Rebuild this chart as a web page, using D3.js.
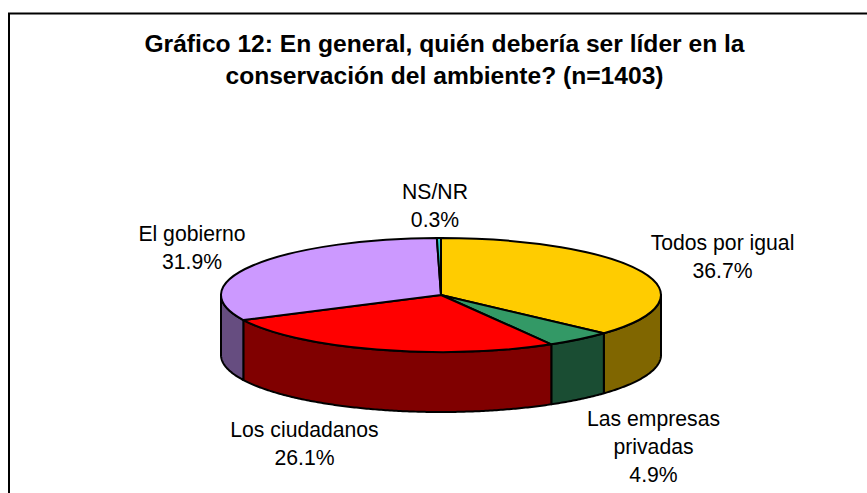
<!DOCTYPE html>
<html lang="es">
<head>
  <meta charset="UTF-8">
  <title>Gráfico 12</title>
  <script src="https://cdn.jsdelivr.net/npm/d3@7"></script>
  <style>
    html, body { margin: 0; padding: 0; background: #fff; }
    svg { display: block; }
    text { font-family: "Liberation Sans", Arial, sans-serif; fill: #000; }
  </style>
</head>
<body>
  <svg id="chart" width="867" height="493"></svg>
<script>
  var titleLines = ["Gráfico 12: En general, quién debería ser líder en la", "conservación del ambiente? (n=1403)"];
  var categories = ["Todos por igual", "Las empresas privadas", "Los ciudadanos", "El gobierno", "NS/NR"];
  var values = [36.7, 4.9, 26.1, 31.9, 0.3];
  var topColors = ["#ffcc00", "#339966", "#ff0000", "#cc99ff", "#33cccc"];
  var sideColors = ["#806600", "#1a4d33", "#800000", "#664d80", "#1a6666"];

  // label anchor (centre x, first baseline y) and line breaks, same order as categories
  var labelX = [722.5, 653.5, 304.5, 192, 435];
  var labelY = [249.5, 426, 437, 240.5, 199];
  var labelLines = [["Todos por igual"], ["Las empresas", "privadas"], ["Los ciudadanos"], ["El gobierno"], ["NS/NR"]];

  var cx = 441, cy = 295, rx = 220, ry = 57, depth = 60;
  var svg = d3.select("#chart");

  // frame only has left and top edges, the rest is cropped
  svg.append("path")
    .attr("d", "M9,493V13.5H867")
    .attr("fill", "none")
    .attr("stroke", "#000")
    .attr("stroke-width", 2);

  svg.selectAll(".title")
    .data(titleLines)
    .enter().append("text")
    .attr("class", "title")
    .attr("x", 444.5)
    .attr("y", function(d, i) { return 52 + i * 32; })
    .attr("text-anchor", "middle")
    .attr("font-size", 24.6)
    .attr("font-weight", "bold")
    .text(function(d) { return d; });

  var slices = d3.pie().sort(null)(values);

  function px(a) { return cx + rx * Math.sin(a); }
  function py(a) { return cy - ry * Math.cos(a); }

  var line = d3.line().x(function(d) { return d[0]; }).y(function(d) { return d[1]; });

  // the wall only shows on the front half of the ellipse
  var frontStart = Math.PI / 2, frontEnd = 3 * Math.PI / 2;
  slices.forEach(function(s, i) {
    var a0 = Math.max(s.startAngle, frontStart);
    var a1 = Math.min(s.endAngle, frontEnd);
    if (a1 <= a0) return;
    var angles = d3.range(a0, a1, 0.01).concat([a1]);
    var upper = angles.map(function(a) { return [px(a), py(a)]; });
    var lower = angles.slice().reverse().map(function(a) { return [px(a), py(a) + depth]; });
    svg.append("path")
      .attr("d", line(upper.concat(lower)) + "Z")
      .attr("fill", sideColors[i])
      .attr("stroke", "#000")
      .attr("stroke-width", 2)
      .attr("stroke-linejoin", "round");
  });

  var arc = d3.arc().innerRadius(0).outerRadius(rx);

  svg.append("g")
    .attr("transform", "translate(" + cx + "," + cy + ") scale(1," + (ry / rx) + ")")
    .selectAll("path")
    .data(slices)
    .enter().append("path")
    .attr("d", arc)
    .attr("fill", function(d, i) { return topColors[i]; })
    .attr("stroke", "#000")
    .attr("stroke-width", 2)
    .attr("stroke-linejoin", "round")
    .attr("vector-effect", "non-scaling-stroke");

  var labels = svg.selectAll(".label")
    .data(categories)
    .enter().append("text")
    .attr("class", "label")
    .attr("text-anchor", "middle")
    .attr("font-size", 21.2);

  labels.each(function(d, i) {
    var rows = labelLines[i].concat([values[i].toFixed(1) + "%"]);
    d3.select(this).selectAll("tspan")
      .data(rows)
      .enter().append("tspan")
      .attr("x", labelX[i])
      .attr("y", function(r, j) { return labelY[i] + j * 28; })
      .text(function(r) { return r; });
  });
</script>
</body>
</html>
